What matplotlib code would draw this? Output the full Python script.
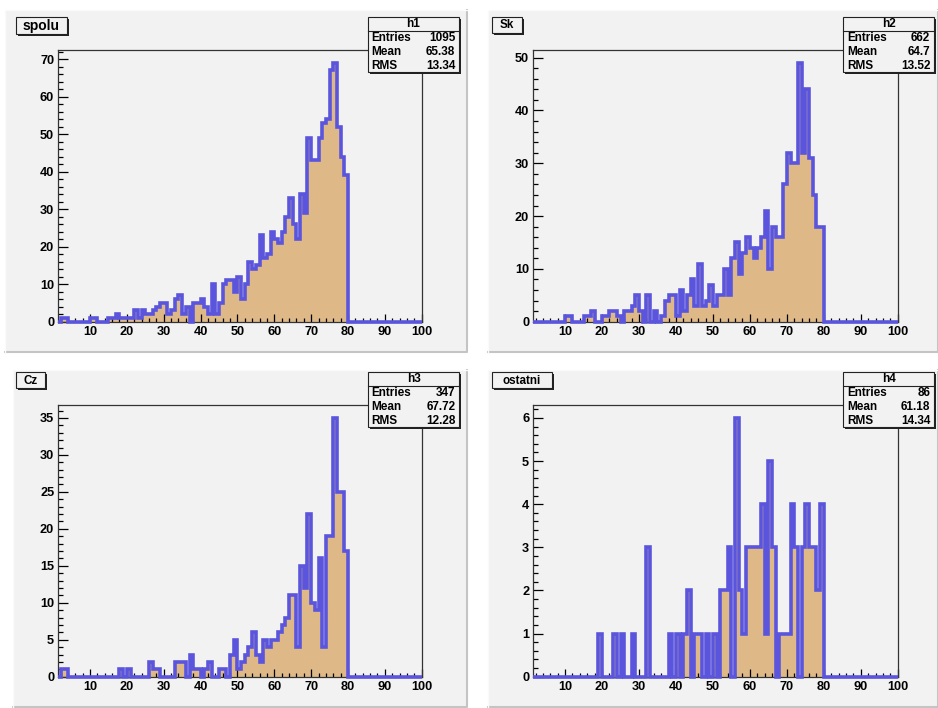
import numpy as np
import matplotlib
matplotlib.use('Agg')
from matplotlib import pyplot as plt
from matplotlib.patches import Rectangle
from matplotlib.ticker import MultipleLocator

# counts per bin, bins [k, k+1) for k = 1..79 (the rest are empty up to 100)
spolu = [0, 1, 1, 0, 0, 0, 0, 0, 0,
         1, 1, 0, 0, 0, 1, 1, 2, 1, 1,
         1, 1, 3, 1, 3, 2, 2, 3, 4, 5,
         5, 2, 3, 6, 7, 2, 4, 0, 5, 5,
         6, 4, 2, 10, 2, 5, 10, 11, 11, 8,
         12, 6, 10, 16, 14, 15, 23, 17, 18, 24,
         22, 21, 24, 28, 33, 26, 22, 34, 29, 49,
         43, 43, 49, 53, 54, 67, 69, 52, 44, 39]

sk = [0, 0, 0, 0, 0, 0, 0, 0, 0,
      1, 1, 0, 0, 0, 1, 1, 2, 0, 0,
      1, 1, 2, 2, 1, 0, 2, 2, 3, 5,
      2, 0, 5, 0, 2, 0, 1, 4, 5, 5,
      1, 6, 2, 5, 8, 3, 11, 3, 4, 7,
      3, 5, 5, 10, 5, 12, 15, 9, 13, 16,
      14, 12, 14, 16, 21, 10, 18, 16, 16, 26,
      32, 30, 30, 49, 32, 44, 31, 24, 18, 18]

cz = [0, 1, 1, 0, 0, 0, 0, 0, 0,
      0, 0, 0, 0, 0, 0, 0, 0, 1, 0,
      1, 0, 0, 0, 0, 0, 2, 1, 1, 0,
      0, 0, 0, 2, 2, 2, 0, 3, 1, 1,
      0, 1, 2, 0, 0, 1, 1, 0, 3, 5,
      1, 2, 3, 4, 6, 3, 2, 5, 4, 5,
      5, 6, 7, 8, 11, 11, 4, 15, 12, 22,
      10, 9, 16, 4, 19, 19, 35, 25, 25, 17]

ostatni = [0, 0, 0, 0, 0, 0, 0, 0, 0,
           0, 0, 0, 0, 0, 0, 0, 0, 0, 1,
           0, 0, 0, 1, 0, 1, 0, 0, 1, 0,
           0, 0, 3, 0, 0, 0, 0, 0, 1, 0,
           1, 0, 1, 2, 0, 1, 1, 0, 1, 0,
           1, 0, 2, 2, 3, 0, 6, 2, 1, 3,
           3, 3, 3, 4, 1, 5, 3, 0, 1, 1,
           1, 4, 3, 0, 3, 4, 3, 3, 2, 4]

titles = ['spolu', 'Sk', 'Cz', 'ostatni']
names = ['h1', 'h2', 'h3', 'h4']
entries = ['1095', '662', '347', '86']
means = ['65.38', '64.7', '67.72', '61.18']
rmss = ['13.34', '13.52', '12.28', '14.34']
y_major = [10, 10, 5, 1]

x_min, x_max = 1.4, 100

W, H = 938, 708
PAD_COL = '#f2f2f2'
FILL = '#deb887'
LINE = '#5a55dc'
FONT = 'Liberation Sans'

# pixel layout of the 4 pads (left, top, right, bottom)
pads = [(5, 10, 466.7, 353), (488, 10, 938, 353),
        (12.7, 370, 466.7, 708), (488, 370, 938, 708)]
frames = [(58.3, 50, 421.7, 321.7), (533.3, 50, 897.7, 321.7),
          (58.3, 405, 421.7, 676.7), (533.3, 405, 897.7, 676.7)]
tboxes = [(16, 16.7, 67, 34.3), (491.7, 16.7, 521.7, 33.3),
          (16, 371.7, 45, 388.3), (491.7, 371.7, 551.7, 388.3)]
sboxes = [(367.7, 16.7, 459.3, 71.7), (843.3, 16.7, 934.3, 71.7),
          (367.7, 371.7, 459.3, 426.7), (843.3, 371.7, 934.3, 426.7)]
tsize = [10, 8.4, 8.4, 8.4]

fig = plt.figure(figsize=(W / 100, H / 100), dpi=100)
fig.patch.set_facecolor('white')

bg = fig.add_axes([0, 0, 1, 1])
bg.set_xlim(0, W)
bg.set_ylim(H, 0)
bg.axis('off')
bg.set_zorder(-5)

top = fig.add_axes([0, 0, 1, 1])
top.set_xlim(0, W)
top.set_ylim(H, 0)
top.axis('off')
top.patch.set_alpha(0)
top.set_zorder(10)

for l, t, r, b in pads:
    bg.add_patch(Rectangle((l, t), r - l, b - t, facecolor=PAD_COL, edgecolor='none'))
    bg.plot([l, r, r], [b - 1, b - 1, t], color='#c4c4c4', lw=1.5)
    bg.plot([l, l, r], [b, t, t], color='#fafafa', lw=1.0)

edges = np.concatenate([[x_min], np.arange(2, 101)])

for i, counts in enumerate([spolu, sk, cz, ostatni]):
    vals = np.zeros(len(edges) - 1)
    vals[:len(counts)] = counts
    l, t, r, b = frames[i]
    ax = fig.add_axes([l / W, 1 - b / H, (r - l) / W, (b - t) / H])
    ax.set_facecolor(PAD_COL)
    ax.stairs(vals, edges, fill=True, color=FILL, zorder=1)
    ax.stairs(vals, edges, color=LINE, lw=2.6, zorder=3, clip_on=False)
    ax.set_xlim(x_min, x_max)
    ax.set_ylim(0, max(counts) * 1.05)

    ax.xaxis.set_major_locator(MultipleLocator(10))
    ax.xaxis.set_minor_locator(MultipleLocator(2))
    ax.yaxis.set_major_locator(MultipleLocator(y_major[i]))
    ax.yaxis.set_minor_locator(MultipleLocator(y_major[i] / 5))
    ax.tick_params(axis='x', which='major', direction='in', length=6, width=0.9, pad=3)
    ax.tick_params(axis='x', which='minor', direction='in', length=3, width=0.9)
    ax.tick_params(axis='y', which='major', direction='in', length=7.2, width=0.9, pad=3)
    ax.tick_params(axis='y', which='minor', direction='in', length=3.6, width=0.9)
    ax.tick_params(top=False, right=False, which='both')
    for lab in ax.get_xticklabels() + ax.get_yticklabels():
        lab.set_fontfamily(FONT)
        lab.set_fontweight('bold')
        lab.set_fontsize(9.2)
    for sp in ax.spines.values():
        sp.set_color('#333333')
        sp.set_linewidth(0.9)

    # title box
    l, t, r, b = tboxes[i]
    top.add_patch(Rectangle((l + 2, t + 2), r - l, b - t, facecolor='#222222', edgecolor='none'))
    top.add_patch(Rectangle((l, t), r - l, b - t, facecolor=PAD_COL, edgecolor='#222222', lw=0.8))
    top.text((l + r) / 2, (t + b) / 2 + 0.5, titles[i], ha='center', va='center',
             fontsize=tsize[i], fontweight='bold', family=FONT)

    # stats box
    l, t, r, b = sboxes[i]
    top.add_patch(Rectangle((l + 2, t + 2), r - l, b - t, facecolor='#222222', edgecolor='none'))
    top.add_patch(Rectangle((l, t), r - l, b - t, facecolor=PAD_COL, edgecolor='#222222', lw=0.8))
    top.plot([l, r], [t + 14, t + 14], color='#222222', lw=0.8)
    top.text((l + r) / 2, t + 7, names[i], ha='center', va='center',
             fontsize=8.5, fontweight='bold', family=FONT)
    rows = [('Entries', entries[i]), ('Mean', means[i]), ('RMS', rmss[i])]
    for j, (key, val) in enumerate(rows):
        yy = t + 21 + j * 14
        top.text(l + 4, yy, key, ha='left', va='center', fontsize=8.5,
                 fontweight='bold', family=FONT)
        top.text(r - 4, yy, val, ha='right', va='center', fontsize=8.5,
                 fontweight='bold', family=FONT)

fig.savefig('out.png', dpi=100)
